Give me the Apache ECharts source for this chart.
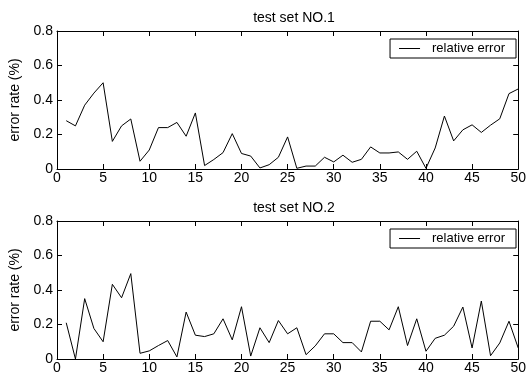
<!DOCTYPE html>
<html>
<head>
<meta charset="utf-8">
<script src="https://cdn.jsdelivr.net/npm/echarts@6/dist/echarts.min.js"></script>
<style>
  html, body { margin: 0; padding: 0; background: #fff; }
  #chart { width: 529px; height: 381px; }
</style>
</head>
<body>
<div id="chart"></div>
<script>
// sample index 1..50
const samples = Array.from({ length: 50 }, (_, i) => i + 1);

// test set NO.1 relative error (%)
const errorSet1 = [
  0.28, 0.25, 0.37, 0.44, 0.50, 0.16, 0.25, 0.29, 0.045, 0.11,
  0.24, 0.24, 0.27, 0.19, 0.325, 0.02, 0.055, 0.095, 0.205, 0.09,
  0.075, 0.006, 0.025, 0.068, 0.186, 0.004, 0.017, 0.017, 0.068, 0.041,
  0.08, 0.039, 0.056, 0.128, 0.093, 0.093, 0.099, 0.056, 0.103, 0.004,
  0.122, 0.307, 0.163, 0.227, 0.256, 0.212, 0.254, 0.291, 0.437, 0.464
];

// test set NO.2 relative error (%)
const errorSet2 = [
  0.21, 0.0, 0.35, 0.177, 0.10, 0.433, 0.355, 0.495, 0.033, 0.047,
  0.078, 0.107, 0.012, 0.272, 0.138, 0.13, 0.146, 0.233, 0.111, 0.303,
  0.017, 0.181, 0.095, 0.223, 0.146, 0.181, 0.025, 0.076, 0.146, 0.146,
  0.095, 0.095, 0.041, 0.219, 0.219, 0.169, 0.303, 0.078, 0.233, 0.045,
  0.12, 0.138, 0.19, 0.301, 0.064, 0.336, 0.019, 0.093, 0.219, 0.064
];

const titles = ['test set NO.1', 'test set NO.2'];
const seriesName = 'relative error';
const yName = 'error rate (%)';

const font = 'Liberation Sans, Arial, sans-serif';
const black = '#000';

const chart = echarts.init(document.getElementById('chart'), null, { renderer: 'canvas' });

const gridTops = [31, 221];
const gridHeight = 138;

// bottom / top x axes per grid, ticks pointing inward (matlab box look)
const makeX = (gridIndex, pos, labels) => ({
  type: 'value', gridIndex, position: pos, min: 0, max: 50, interval: 5,
  axisLine: { show: true, onZero: false, lineStyle: { color: black, width: 1 } },
  axisTick: { show: true, inside: true, length: 5, lineStyle: { color: black } },
  axisLabel: { show: labels, color: black, fontSize: 14, fontFamily: font, margin: 2 },
  splitLine: { show: false }
});

const makeY = (gridIndex, pos, labels) => ({
  type: 'value', gridIndex, position: pos, min: 0, max: 0.8, interval: 0.2,
  name: labels ? yName : '',
  nameLocation: 'middle', nameGap: 31, nameRotate: 90,
  nameTextStyle: { color: black, fontSize: 14, fontFamily: font },
  axisLine: { show: true, onZero: false, lineStyle: { color: black, width: 1 } },
  axisTick: { show: true, inside: true, length: 5, lineStyle: { color: black } },
  axisLabel: {
    show: labels, color: black, fontSize: 14, fontFamily: font, margin: 4,
    formatter: (v) => (v === 0 ? '0' : v.toFixed(1))
  },
  splitLine: { show: false }
});

const option = {
  backgroundColor: '#fff',
  animation: false,
  title: titles.map((t, i) => ({
    text: t,
    left: 289, textAlign: 'center',
    top: gridTops[i] - 25,
    textStyle: { color: black, fontSize: 14, fontWeight: 'normal', fontFamily: font }
  })),
  legend: gridTops.map((top) => ({
    data: [seriesName],
    right: 13, top: top + 8,
    orient: 'horizontal',
    icon: 'rect',
    itemWidth: 21, itemHeight: 1, itemGap: 0,
    padding: [3, 11, 3, 9],
    borderColor: black, borderWidth: 1, borderRadius: 0,
    backgroundColor: '#fff',
    selectedMode: false,
    textStyle: { color: black, fontSize: 13, fontFamily: font, padding: [0, 0, 0, 7] }
  })),
  grid: gridTops.map((top) => ({ left: 57, right: 7, top, height: gridHeight })),
  xAxis: [makeX(0, 'bottom', true), makeX(0, 'top', false), makeX(1, 'bottom', true), makeX(1, 'top', false)],
  yAxis: [makeY(0, 'left', true), makeY(0, 'right', false), makeY(1, 'left', true), makeY(1, 'right', false)],
  series: [errorSet1, errorSet2].map((vals, i) => ({
    name: seriesName,
    type: 'line',
    xAxisIndex: i * 2,
    yAxisIndex: i * 2,
    data: samples.map((s, k) => [s, vals[k]]),
    symbol: 'none',
    lineStyle: { color: black, width: 1 },
    itemStyle: { color: black }
  }))
};

chart.setOption(option);
</script>
</body>
</html>
